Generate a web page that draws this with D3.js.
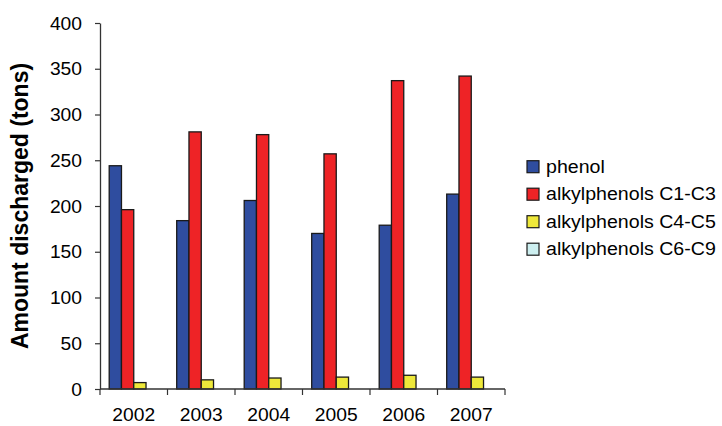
<!DOCTYPE html>
<html>
<head>
<meta charset="utf-8">
<script src="https://cdn.jsdelivr.net/npm/d3@7"></script>
<style>
  html, body { margin: 0; padding: 0; background: #fff; }
  svg { display: block; }
  text { font-family: "Liberation Sans", Arial, Helvetica, sans-serif; fill: #000; }
</style>
</head>
<body>
<svg id="chart" width="722" height="426"></svg>
<script>
// Discharge per year, tons
const years = ["2002", "2003", "2004", "2005", "2006", "2007"];
const seriesNames = ["phenol", "alkylphenols C1-C3", "alkylphenols C4-C5", "alkylphenols C6-C9"];
const phenol = [244, 184, 206, 170, 179, 213];
const alkylC1C3 = [196, 281, 278, 257, 337, 342];
const alkylC4C5 = [7, 10, 12, 13, 15, 13];
const alkylC6C9 = [0, 0, 0, 0, 0, 0];
const yTicks = [0, 50, 100, 150, 200, 250, 300, 350, 400];
const colors = ["#2f4d9f", "#ee2326", "#eee83a", "#cdeff0"];

const seriesValues = [phenol, alkylC1C3, alkylC4C5, alkylC6C9];
const rows = years.map((yr, i) => ({
  year: yr,
  values: seriesNames.map((s, k) => ({ key: s, value: seriesValues[k][i], color: colors[k] }))
}));

const svg = d3.select("#chart");
const plot = { left: 100, right: 505, top: 23, bottom: 389 };
const sx = 1.1;        // horizontal text stretch
const sxLegend = 1.12;

const x0 = d3.scaleBand().domain(years).range([plot.left, plot.right]).paddingInner(0).paddingOuter(0);
const bw = x0.bandwidth();
const gapHalf = bw * 0.75 / 5.5;
const x1 = d3.scaleBand().domain(seriesNames).range([gapHalf, bw - gapHalf]).padding(0);
const y = d3.scaleLinear().domain([0, 400]).range([plot.bottom, plot.top]);

// Bars
const groups = svg.append("g").selectAll("g").data(rows).join("g")
  .attr("transform", d => `translate(${x0(d.year)},0)`);

groups.selectAll("rect").data(d => d.values.filter(v => v.value > 0)).join("rect")
  .attr("x", d => x1(d.key))
  .attr("y", d => y(d.value))
  .attr("width", x1.bandwidth())
  .attr("height", d => y(0) - y(d.value))
  .attr("fill", d => d.color)
  .attr("stroke", "#1a1a1a")
  .attr("stroke-width", 1.3);

// Y axis
const yAxis = svg.append("g")
  .attr("transform", `translate(${plot.left},0)`)
  .call(d3.axisLeft(y).tickValues(yTicks).tickSize(5).tickSizeOuter(0).tickPadding(0));
yAxis.select(".domain").attr("stroke", "#333").attr("stroke-width", 1.3);
yAxis.selectAll(".tick line").attr("stroke", "#333").attr("stroke-width", 1.2);
yAxis.selectAll(".tick text")
  .attr("x", 0).attr("dy", null).attr("y", 0)
  .attr("dominant-baseline", "central")
  .attr("text-anchor", "end")
  .attr("font-size", 17.5)
  .attr("font-family", null)
  .attr("transform", `translate(-18,0) scale(${sx},1)`);

// X axis line and category boundary ticks
svg.append("line")
  .attr("x1", plot.left).attr("x2", plot.right)
  .attr("y1", plot.bottom).attr("y2", plot.bottom)
  .attr("stroke", "#333").attr("stroke-width", 1.3);
const bounds = years.map(yr => x0(yr)).concat([x0.range()[1]]);
svg.append("g").selectAll("line").data(bounds).join("line")
  .attr("x1", d => d).attr("x2", d => d)
  .attr("y1", plot.bottom).attr("y2", plot.bottom + 6)
  .attr("stroke", "#333").attr("stroke-width", 1.2);

svg.append("g").selectAll("text").data(years).join("text")
  .attr("transform", d => `translate(${x0(d) + bw / 2},${plot.bottom + 32}) scale(${sx},1)`)
  .attr("text-anchor", "middle")
  .attr("font-size", 17.5)
  .text(d => d);

// Y axis title
svg.append("text")
  .attr("transform", `translate(28,${(plot.top + plot.bottom) / 2}) rotate(-90)`)
  .attr("text-anchor", "middle")
  .attr("font-size", 23)
  .attr("font-weight", "bold")
  .text("Amount discharged (tons)");

// Legend
const legend = svg.append("g").selectAll("g").data(seriesNames).join("g")
  .attr("transform", (d, i) => `translate(527,${166.7 + i * 27.5})`);
legend.append("rect")
  .attr("x", 0).attr("y", -6).attr("width", 12).attr("height", 12)
  .attr("fill", (d, i) => colors[i])
  .attr("stroke", "#1a1a1a").attr("stroke-width", 1.2);
legend.append("text")
  .attr("transform", `translate(19,6) scale(${sxLegend},1)`)
  .attr("font-size", 17.5)
  .text(d => d);
</script>
</body>
</html>
